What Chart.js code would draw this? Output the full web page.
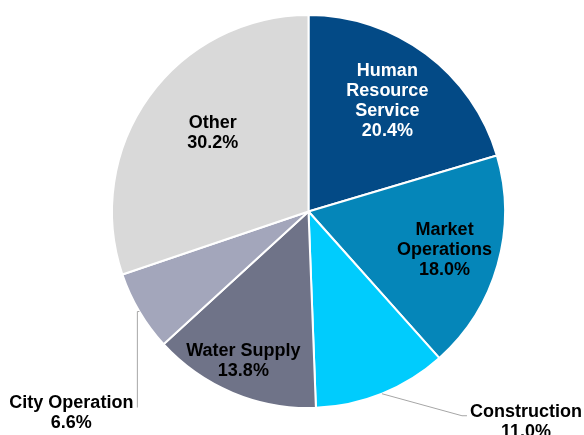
<!DOCTYPE html>
<html><head><meta charset="utf-8">
<script src="https://cdn.jsdelivr.net/npm/chart.js@4.4.1/dist/chart.umd.min.js"></script>
<style>html,body{margin:0;padding:0;background:#fff}#wrap{width:584px;height:435px}</style>
</head><body><div id="wrap"><canvas id="c" width="584" height="435"></canvas></div>
<script>
const categories = ["Human Resource Service", "Market Operations", "Construction", "Water Supply", "City Operation", "Other"];
const labelLines = [["Human","Resource","Service"],["Market","Operations"],["Construction"],["Water Supply"],["City Operation"],["Other"]];
const shares = [20.4, 18.0, 11.0, 13.8, 6.6, 30.2];
const colors = ["#034a86", "#0586b9", "#00ccfd", "#6f7388", "#a3a6bb", "#d9d9d9"];
const textColors = ["#ffffff", "#000000", "#000000", "#000000", "#000000", "#000000"];

const labelPlugin = {
  id: 'sliceLabels',
  afterDraw(chart, args, opts) {
    const ctx = chart.ctx;
    const meta = chart.getDatasetMeta(0);
    ctx.save();
    ctx.font = 'bold 18px "Liberation Sans", Arial, sans-serif';
    ctx.textAlign = 'center';
    ctx.textBaseline = 'middle';
    const lh = 20;
    meta.data.forEach((arc, i) => {
      const p = arc.getProps(['x','y','startAngle','endAngle','outerRadius'], true);
      const mid = (p.startAngle + p.endAngle) / 2;
      const lines = labelLines[i].concat([shares[i].toFixed(1) + '%']);
      const cfg = opts.place[i];
      let cx, cy;
      if (cfg.outside) {
        const ex = p.x + Math.cos(mid) * p.outerRadius;
        const ey = p.y + Math.sin(mid) * p.outerRadius;
        ctx.strokeStyle = '#a6a6a6';
        ctx.lineWidth = 1;
        ctx.beginPath();
        ctx.moveTo(ex, ey);
        cfg.leader.forEach(([dx, dy]) => ctx.lineTo(ex + dx, ey + dy));
        ctx.stroke();
        cx = ex + cfg.text[0];
        cy = ey + cfg.text[1];
        ctx.fillStyle = '#000';
      } else {
        const r = p.outerRadius * cfg.r;
        const a = mid + (cfg.da || 0);
        cx = p.x + Math.cos(a) * r;
        cy = p.y + Math.sin(a) * r;
        ctx.fillStyle = textColors[i];
      }
      const top = cy - (lines.length - 1) * lh / 2;
      lines.forEach((t, k) => ctx.fillText(t, cx, top + k * lh));
    });
    ctx.restore();
  }
};

new Chart(document.getElementById('c'), {
  type: 'pie',
  data: {
    labels: categories,
    datasets: [{
      data: shares,
      backgroundColor: colors,
      borderColor: '#ffffff',
      borderWidth: 2
    }]
  },
  options: {
    responsive: false,
    animation: false,
    layout: { padding: { left: 33, right: 0, top: 14, bottom: 26 } },
    plugins: {
      legend: { display: false },
      tooltip: { enabled: false },
      sliceLabels: {
        place: [
          { r: 0.69, da: -0.02 },
          { r: 0.72 },
          { outside: true, leader: [[80, 22], [85, 22]], text: [144, 28] },
          { r: 0.83, da: 0.015 },
          { outside: true, leader: [[-2, 0], [-2, 96]], text: [-68, 102] },
          { r: 0.63, da: 0.065 }
        ]
      }
    }
  },
  plugins: [labelPlugin]
});
</script></body></html>
